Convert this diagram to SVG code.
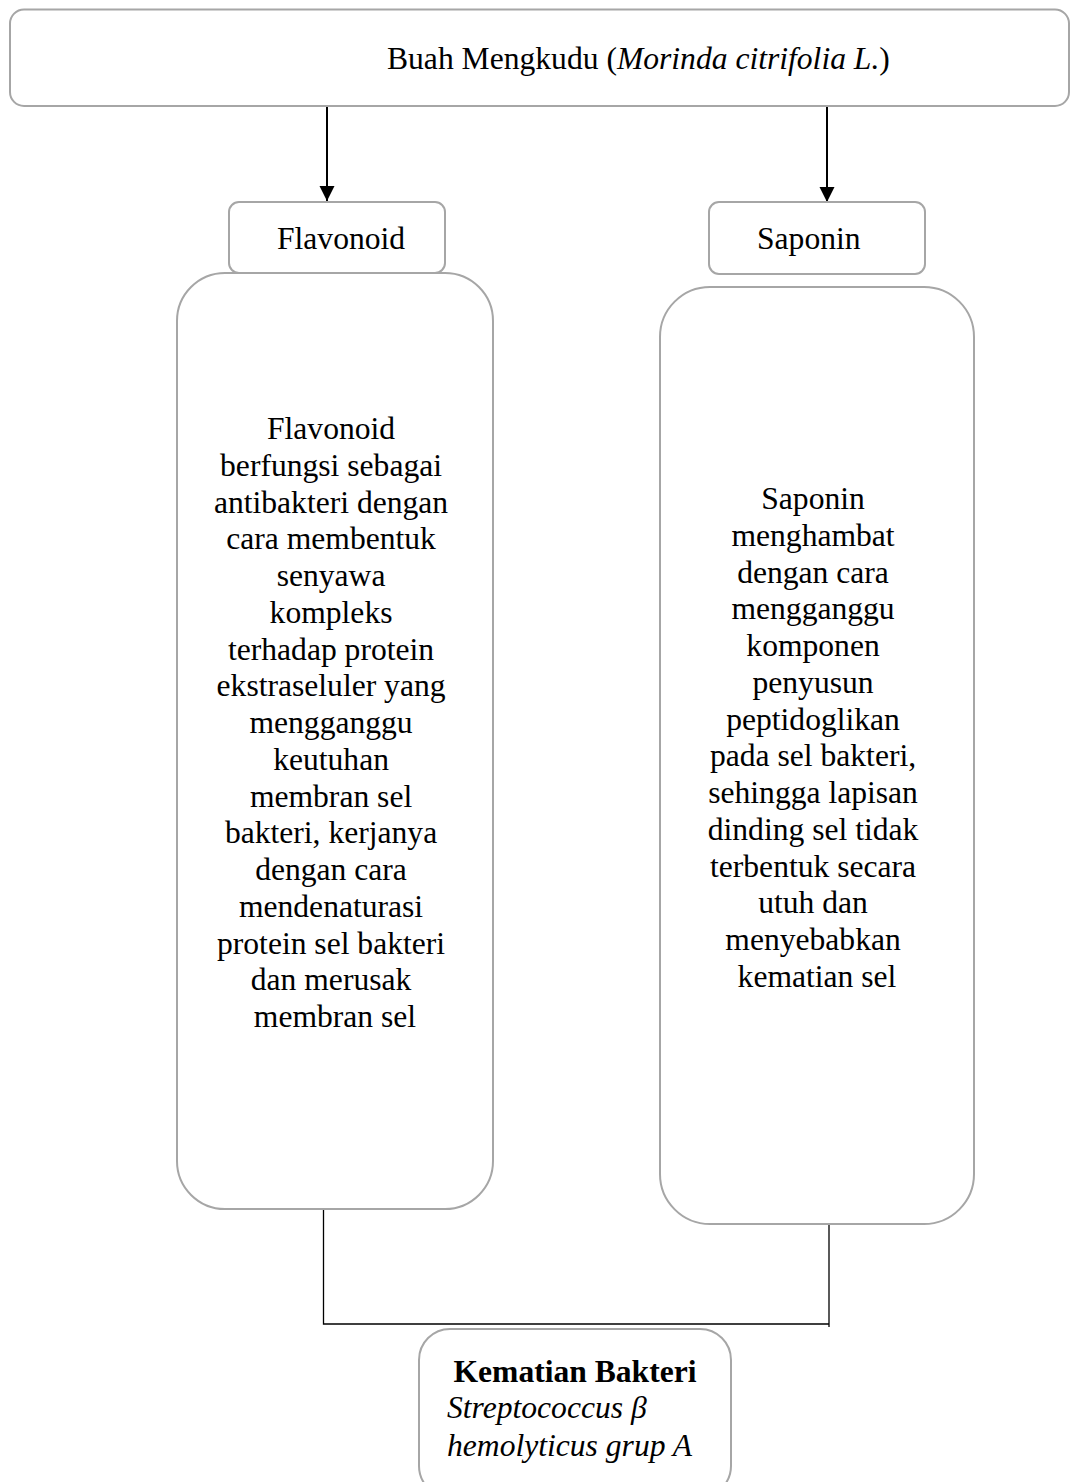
<svg xmlns="http://www.w3.org/2000/svg" width="1072" height="1482" viewBox="0 0 1072 1482">
<style>
.box{fill:#fff;stroke:#a6a6a6;stroke-width:2}
.t{font-family:"Liberation Serif","Times New Roman",serif;font-size:31.6px;fill:#000}
.c{text-anchor:middle}
.conn{stroke:#000;fill:none}
</style>
<defs>
<marker id="ah" markerUnits="userSpaceOnUse" markerWidth="16" markerHeight="16" viewBox="0 0 16 16" refX="15" refY="8" orient="auto">
<path d="M0,0.5 L15,8 L0,15.5 Z" fill="#000"/>
</marker>
</defs>
<rect width="1072" height="1482" fill="#fff"/>
<g id="connectors">
<line class="conn" stroke-width="2" x1="327" y1="106" x2="327" y2="201" marker-end="url(#ah)"/>
<line class="conn" stroke-width="2" x1="827" y1="106" x2="827" y2="202" marker-end="url(#ah)"/>
<polyline class="conn" stroke-width="1.3" points="323.5,1209 323.5,1324 829,1324"/>
<line class="conn" stroke-width="1.3" x1="829" y1="1224" x2="829" y2="1327"/>
</g>
<g id="node-top">
<rect class="box" x="10" y="9.5" width="1059" height="96.5" rx="14"/>
<text class="t" x="387" y="69">Buah Mengkudu (<tspan font-style="italic">Morinda citrifolia L.</tspan>)</text>
</g>
<g id="node-flavonoid">
<rect class="box" x="229" y="202" width="216" height="71" rx="10"/>
<text class="t" x="277" y="249">Flavonoid</text>
</g>
<g id="node-saponin">
<rect class="box" x="709" y="202" width="216" height="72" rx="10"/>
<text class="t" x="757" y="249">Saponin</text>
</g>
<g id="node-flavonoid-desc">
<rect class="box" x="177" y="273" width="316" height="936" rx="48"/>
<text class="t c" x="335">
<tspan x="335" y="439">Flavonoid</tspan>
<tspan x="335" y="475.75">berfungsi sebagai</tspan>
<tspan x="335" y="512.5">antibakteri dengan</tspan>
<tspan x="335" y="549.25">cara membentuk</tspan>
<tspan x="335" y="586">senyawa</tspan>
<tspan x="335" y="622.75">kompleks</tspan>
<tspan x="335" y="659.5">terhadap protein</tspan>
<tspan x="335" y="696.25">ekstraseluler yang</tspan>
<tspan x="335" y="733">mengganggu</tspan>
<tspan x="335" y="769.75">keutuhan</tspan>
<tspan x="335" y="806.5">membran sel</tspan>
<tspan x="335" y="843.25">bakteri, kerjanya</tspan>
<tspan x="335" y="880">dengan cara</tspan>
<tspan x="335" y="916.75">mendenaturasi</tspan>
<tspan x="335" y="953.5">protein sel bakteri</tspan>
<tspan x="335" y="990.25">dan merusak</tspan>
<tspan x="335" y="1027">membran sel</tspan>
</text>
</g>
<g id="node-saponin-desc">
<rect class="box" x="660" y="287" width="314" height="937" rx="50"/>
<text class="t c" x="817">
<tspan x="817" y="509">Saponin</tspan>
<tspan x="817" y="545.75">menghambat</tspan>
<tspan x="817" y="582.5">dengan cara</tspan>
<tspan x="817" y="619.25">mengganggu</tspan>
<tspan x="817" y="656">komponen</tspan>
<tspan x="817" y="692.75">penyusun</tspan>
<tspan x="817" y="729.5">peptidoglikan</tspan>
<tspan x="817" y="766.25">pada sel bakteri,</tspan>
<tspan x="817" y="803">sehingga lapisan</tspan>
<tspan x="817" y="839.75">dinding sel tidak</tspan>
<tspan x="817" y="876.5">terbentuk secara</tspan>
<tspan x="817" y="913.25">utuh dan</tspan>
<tspan x="817" y="950">menyebabkan</tspan>
<tspan x="817" y="986.75">kematian sel</tspan>
</text>
</g>
<g id="node-result">
<rect class="box" x="419" y="1329" width="312" height="168" rx="31"/>
<text class="t c" x="575" y="1382" font-weight="bold">Kematian Bakteri</text>
<text class="t" font-style="italic"><tspan x="447" y="1418">Streptococcus β</tspan><tspan x="447" y="1456">hemolyticus grup A</tspan></text>
</g>
</svg>
